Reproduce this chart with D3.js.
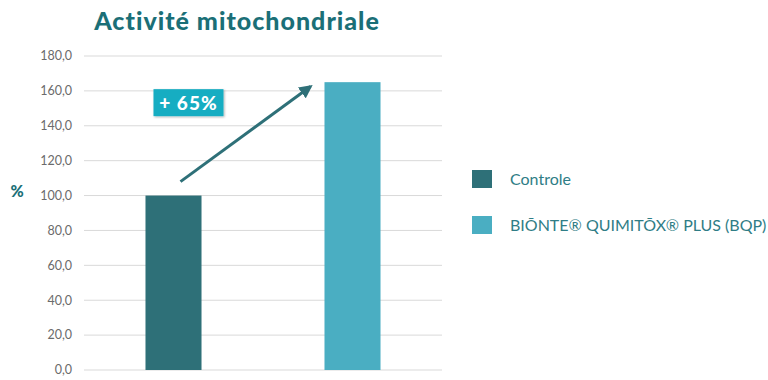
<!DOCTYPE html>
<html><head><meta charset="utf-8">
<script src="https://cdn.jsdelivr.net/npm/d3@7"></script>
<style>body{margin:0;background:#fff;}svg{display:block;font-family:Lato,"Open Sans",sans-serif;}</style>
</head><body>
<svg id="c" width="768" height="380"></svg>
<script>
const categories = ["Controle", "BIŌNTE® QUIMITŌX® PLUS (BQP)"];
const values = [100, 165];
const colors = ["#2e7078", "#4aaec2"];
const yTicks = [0, 20, 40, 60, 80, 100, 120, 140, 160, 180];
const title = "Activité mitochondriale";
const annotation = "+ 65%";

const svg = d3.select("#c");
const x = d3.scaleBand().domain(categories).range([84, 442]).paddingInner(0.687).paddingOuter(0.3435);
const y = d3.scaleLinear().domain([0, 180]).range([370, 56]);

// grid
svg.append("g").selectAll("line").data(yTicks).join("line")
  .attr("x1", 84).attr("x2", 442)
  .attr("y1", d => y(d)).attr("y2", d => y(d))
  .attr("stroke", "#d9d9d9").attr("stroke-width", 1);

// axis labels
const fmt = d => d3.format(".1f")(d).replace(".", ",");
svg.append("g").selectAll("text").data(yTicks).join("text")
  .attr("x", 72).attr("y", d => y(d)).attr("dy", "0.35em")
  .attr("text-anchor", "end").attr("fill", "#6b6b6b").attr("font-size", 12.5)
  .text(fmt);

svg.append("text").attr("x", 17).attr("y", y(100) - 4).attr("dy", "0.35em")
  .attr("text-anchor", "middle").attr("fill", "#1b6f77").attr("font-weight", "900")
  .attr("font-size", 16).text("%");

// bars
svg.append("g").selectAll("rect").data(values).join("rect")
  .attr("x", (d, i) => x(categories[i])).attr("width", x.bandwidth())
  .attr("y", d => y(d)).attr("height", d => y(0) - y(d))
  .attr("fill", (d, i) => colors[i]);

// title
svg.append("text").attr("x", 237).attr("y", 30).attr("text-anchor", "middle")
  .attr("fill", "#1b6f77").attr("font-weight", "900").attr("font-size", 25)
  .attr("letter-spacing", 1).text(title);

// arrow
const defs = svg.append("defs");
defs.append("marker").attr("id", "ah").attr("viewBox", "0 0 10 10")
  .attr("refX", 8).attr("refY", 5).attr("markerWidth", 4.5).attr("markerHeight", 4.5)
  .attr("orient", "auto").append("path").attr("d", "M0,0 L10,5 L0,10 Z").attr("fill", "#2e7078");
defs.append("filter").attr("id", "sh").append("feDropShadow")
  .attr("dx", 1).attr("dy", 1).attr("stdDeviation", 1).attr("flood-opacity", 0.3);

const x0 = x(categories[0]) + x.bandwidth() / 2 + 7;
const x1 = x(categories[1]) - 14;
svg.append("line").attr("x1", x0).attr("y1", y(108)).attr("x2", x1).attr("y2", y(162.5))
  .attr("stroke", "#2e7078").attr("stroke-width", 3).attr("marker-end", "url(#ah)");

// annotation box
const bx = x(categories[0]) + 8, by = y(161);
const g = svg.append("g");
g.append("rect").attr("x", bx).attr("y", by).attr("width", 70).attr("height", 27)
  .attr("fill", "#17adc2").attr("filter", "url(#sh)");
g.append("text").attr("x", bx + 35).attr("y", by + 14).attr("dy", "0.35em")
  .attr("text-anchor", "middle").attr("fill", "#fff").attr("font-weight", "900")
  .attr("font-size", 19).attr("letter-spacing", 1).text(annotation);

// legend
const lg = svg.append("g").selectAll("g").data(categories).join("g")
  .attr("transform", (d, i) => `translate(472,${170 + i * 46})`);
lg.append("rect").attr("width", 20).attr("height", 18).attr("fill", (d, i) => colors[i]);
lg.append("text").attr("x", 38).attr("y", 9).attr("dy", "0.35em")
  .attr("fill", "#2f7d86").attr("font-size", 16).text(d => d);
</script>
</body></html>
